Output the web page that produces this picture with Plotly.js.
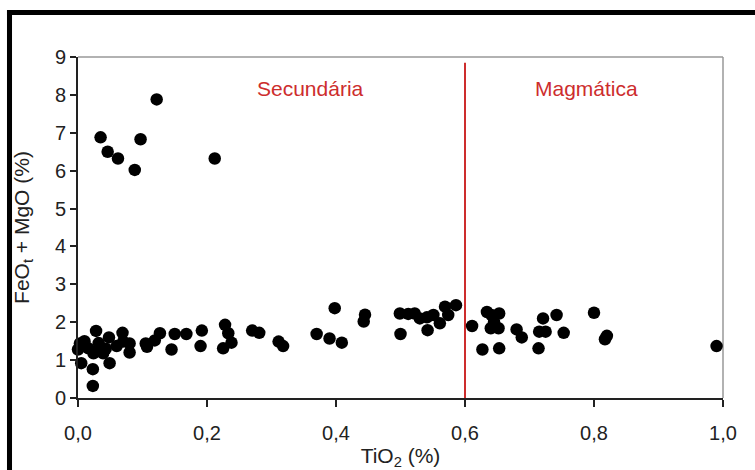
<!DOCTYPE html>
<html>
<head>
<meta charset="utf-8">
<script src="https://cdn.plot.ly/plotly-3.0.1.min.js"></script>
<style>html,body{margin:0;padding:0;background:#fff;}#chart{width:755px;height:470px;}</style>
</head>
<body>
<div id="chart"></div>
<script>
// TiO2 (%) and FeOt + MgO (%)
const tio2 = [
  0.035, 0.046, 0.062, 0.088, 0.097, 0.122, 0.212,
  0.003, 0.000, 0.005, 0.016, 0.028, 0.024, 0.023, 0.023, 0.034, 0.039,
  0.048, 0.049, 0.060, 0.069, 0.070, 0.080, 0.080, 0.010, 0.032, 0.043,
  0.105, 0.107, 0.119, 0.127, 0.145, 0.150, 0.168, 0.192, 0.190,
  0.228, 0.233, 0.225, 0.238, 0.270, 0.281, 0.311, 0.318,
  0.370, 0.390, 0.398, 0.409, 0.445, 0.443,
  0.499, 0.500, 0.512, 0.522, 0.530, 0.541, 0.542, 0.551, 0.561, 0.569, 0.574, 0.586,
  0.611, 0.634, 0.641, 0.653, 0.645, 0.640, 0.652, 0.627, 0.653,
  0.680, 0.688, 0.721, 0.715, 0.725, 0.714, 0.742, 0.753,
  0.800, 0.820, 0.817, 0.990
];
const feoMgo = [
  6.88, 6.50, 6.32, 6.02, 6.83, 7.88, 6.32,
  1.44, 1.28, 0.92, 1.31, 1.77, 1.18, 0.76, 0.32, 1.35, 1.18,
  1.60, 0.92, 1.37, 1.72, 1.49, 1.44, 1.20, 1.50, 1.45, 1.30,
  1.44, 1.35, 1.52, 1.71, 1.28, 1.69, 1.69, 1.78, 1.37,
  1.93, 1.71, 1.31, 1.46, 1.78, 1.72, 1.49, 1.37,
  1.69, 1.57, 2.37, 1.46, 2.20, 2.02,
  2.23, 1.69, 2.22, 2.23, 2.10, 2.13, 1.79, 2.19, 1.97, 2.41, 2.19, 2.45,
  1.90, 2.27, 2.19, 2.23, 2.00, 1.84, 1.84, 1.28, 1.31,
  1.81, 1.60, 2.10, 1.75, 1.75, 1.31, 2.19, 1.72,
  2.25, 1.64, 1.55, 1.37
];
const xTickVals = [0, 0.2, 0.4, 0.6, 0.8, 1.0];
const yTickVals = [0, 1, 2, 3, 4, 5, 6, 7, 8, 9];
const boundaryTiO2 = 0.6;
const regionLabels = ["Secundária", "Magmática"];

const FONT = "Liberation Sans, Arial, Helvetica, sans-serif";
const RED = "rgb(205,45,45)";

const trace = {
  x: tio2, y: feoMgo, type: "scatter", mode: "markers",
  marker: {color: "#000", size: 12.5},
  cliponaxis: false, hoverinfo: "skip"
};

const layout = {
  width: 755, height: 470,
  margin: {l: 78, r: 32, t: 57, b: 72},
  paper_bgcolor: "#fff", plot_bgcolor: "#fff",
  separators: ",.",
  showlegend: false,
  font: {family: FONT, color: "#222", size: 20},
  xaxis: {
    range: [0, 1], tickvals: xTickVals, tickformat: ".1f",
    showgrid: false, zeroline: false,
    showline: true, linecolor: "#222", linewidth: 2,
    ticks: "outside", ticklen: 7, tickwidth: 2, tickcolor: "#222",
    ticklabelstandoff: 9,
    tickfont: {size: 20, color: "#222"},
    title: {text: "TiO<sub>2</sub> (%)", font: {size: 21, color: "#222"}, standoff: 6}
  },
  yaxis: {
    range: [0, 9], tickvals: yTickVals,
    showgrid: false, zeroline: false,
    showline: true, linecolor: "#222", linewidth: 2,
    ticks: "outside", ticklen: 6, tickwidth: 2, tickcolor: "#222",
    tickfont: {size: 20, color: "#222"},
    title: {text: "FeO<sub>t</sub> + MgO (%)", font: {size: 21, color: "#222"}, standoff: 20}
  },
  shapes: [
    {type: "line", xref: "paper", yref: "paper", x0: 0, x1: 1, y0: 1, y1: 1, line: {color: "#999", width: 1.5}, layer: "below"},
    {type: "line", xref: "paper", yref: "paper", x0: 1, x1: 1, y0: 0, y1: 1, line: {color: "#999", width: 1.5}, layer: "below"},
    {type: "line", xref: "x", yref: "y", x0: boundaryTiO2, x1: boundaryTiO2, y0: 0, y1: 8.85, line: {color: RED, width: 2}, layer: "below"},
    {type: "rect", xref: "paper", yref: "paper", x0: -0.1101, x1: -0.1023, y0: -0.22, y1: 1.1378, fillcolor: "#000", line: {width: 0}},
    {type: "rect", xref: "paper", yref: "paper", x0: -0.1101, x1: 1.06, y0: 1.1232, y1: 1.1378, fillcolor: "#000", line: {width: 0}}
  ],
  annotations: [
    {x: 0.36, y: 8.18, xref: "x", yref: "y", text: regionLabels[0], showarrow: false, font: {size: 21, color: RED}},
    {x: 0.789, y: 8.18, xref: "x", yref: "y", text: regionLabels[1], showarrow: false, font: {size: 21, color: RED}}
  ]
};

Plotly.newPlot("chart", [trace], layout, {displayModeBar: false, staticPlot: true});
</script>
</body>
</html>
